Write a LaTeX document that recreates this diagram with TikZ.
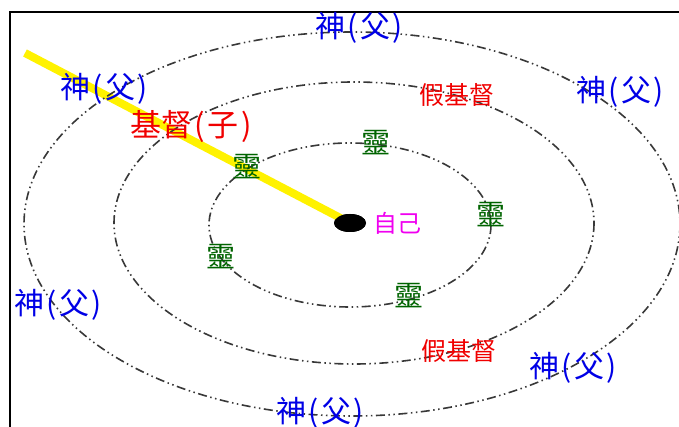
\documentclass[tikz,border=0pt]{standalone}
\usepackage{fontspec}
\newfontfamily\cjk{Noto Sans CJK TC}
\usetikzlibrary{shapes.geometric}
\definecolor{ringgray}{HTML}{383838}
\definecolor{godblue}{HTML}{0000E6}
\definecolor{christred}{HTML}{F00000}
\definecolor{spiritgreen}{HTML}{006400}
\definecolor{selfmag}{HTML}{F000F0}
\newcommand\plft{\makebox[0.5em][c]{(}}
\newcommand\prgt{\makebox[0.5em][c]{)}}
\tikzset{
  ring/.style={draw=ringgray, line width=1.6pt, dash pattern=on 9pt off 3.5pt on 1.5pt off 3.5pt on 1.5pt off 3.5pt},
  lbl/.style={inner sep=0pt, font=\cjk},
  god/.style={lbl, text=godblue, font=\cjk\fontsize{30}{30}\selectfont},
  christ/.style={lbl, text=christred, font=\cjk\fontsize{31}{31}\selectfont},
  fake/.style={lbl, text=christred, font=\cjk\fontsize{25}{25}\selectfont},
  spirit/.style={lbl, text=spiritgreen, font=\cjk\fontsize{29}{29}\selectfont},
  selfl/.style={lbl, text=selfmag, font=\cjk\fontsize{24}{24}\selectfont},
}
\begin{document}
\begin{tikzpicture}[x=1pt,y=-1pt]
\useasboundingbox (0,0) rectangle (679,427);
% frame
\draw[line width=2pt, black] (9.5,427) -- (9.5,12.5) -- (679,12.5);
% nodes
\node[ellipse, fill=black, minimum width=32pt, minimum height=18pt, inner sep=0pt] (self) at (350,223) {};
\coordinate (ystart) at (25,53);
% yellow line
\draw[yellow, line width=8pt] (ystart) -- (self.center);
% rings
\draw[ring] (350,225) ellipse [x radius=141, y radius=82];
\draw[ring] (354,223) ellipse [x radius=240, y radius=141];
\draw[ring] (352,224) ellipse [x radius=328, y radius=192];
% dot on top
\node[ellipse, fill=black, minimum width=32pt, minimum height=18pt, inner sep=0pt] at (self.center) {};
% labels
\node[god] (g1) at (360,28) {神\plft 父\prgt};
\node[god] (g2) at (105,89) {神\plft 父\prgt};
\node[god] (g3) at (621,92) {神\plft 父\prgt};
\node[god] (g4) at (59,305) {神\plft 父\prgt};
\node[god] (g5) at (574,368) {神\plft 父\prgt};
\node[god] (g6) at (321,413) {神\plft 父\prgt};
\node[christ] (c1) at (192,127) {基督\plft 子\prgt};
\node[fake] (f1) at (457,95) {假基督};
\node[fake] (f2) at (459,351) {假基督};
\node[spirit] (s1) at (247,167) {靈};
\node[spirit] (s2) at (376,143) {靈};
\node[spirit] (s3) at (491,215) {靈};
\node[spirit] (s4) at (221,257) {靈};
\node[spirit] (s5) at (409,296) {靈};
\node[selfl] (me) at (397,223) {自己};
\end{tikzpicture}
\end{document}
